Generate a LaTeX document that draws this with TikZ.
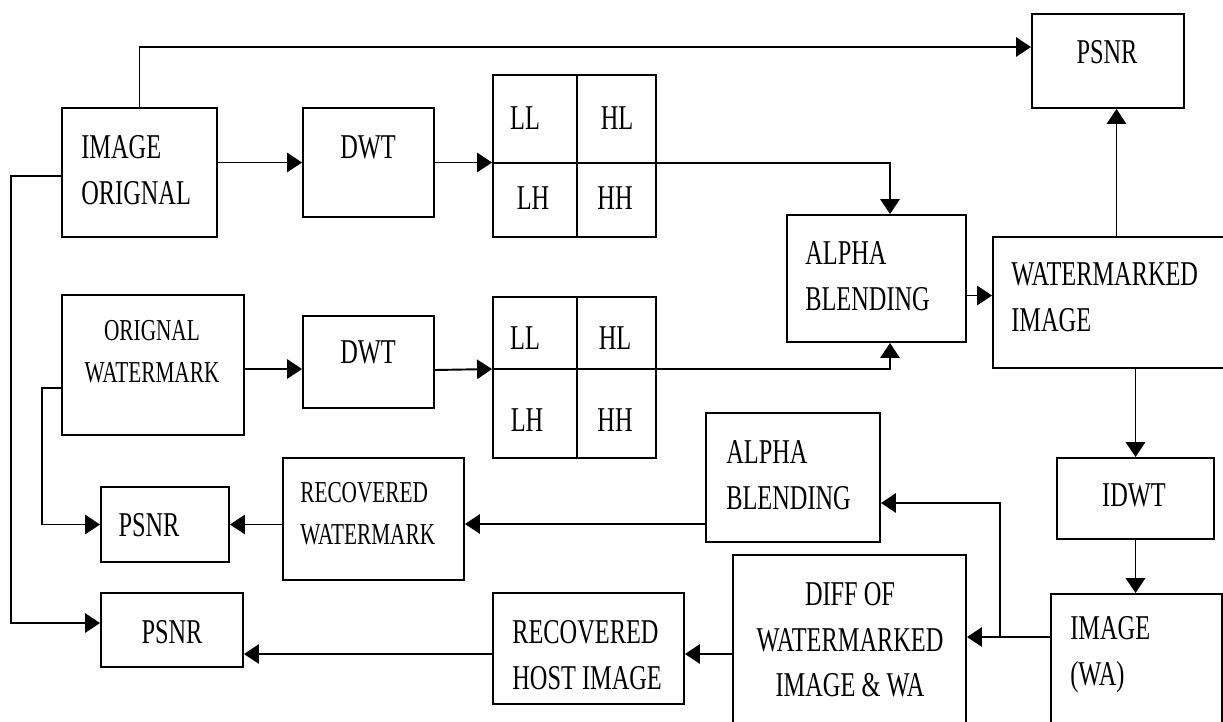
\documentclass[tikz,border=0pt]{standalone}
\usepackage{fontspec}
\setmainfont{Liberation Serif}[FakeStretch=0.7]
\usepackage{tikz}
\usetikzlibrary{arrows.meta, calc, fit}

\tikzset{
  blk/.style={draw, line width=1.1pt, inner sep=0pt},
  lbl/.style={font=\fontsize{19.8}{26}\selectfont, inner sep=0pt, align=left},
  sml/.style={lbl, font=\fontsize{17.3}{24}\selectfont},
  arr/.style={-{Triangle[length=8.5pt, width=11pt]}, line width=1.1pt},
  ln/.style={line width=1.1pt},
}

\begin{document}
\begin{tikzpicture}[x=0.02cm, y=-0.02cm]
    \useasboundingbox (0,0) rectangle (1223,721);
    \clip (0,0) rectangle (1223,721);

    % Host image branch
    \node[blk, fit={(62,108) (217,237)}] (imgorig) {};
    \node[lbl, anchor=west] (imgorigt) at (81,170) {IMAGE\\ORIGNAL};
    \node[blk, fit={(303,108) (434,217)}] (dwta) {};
    \node[lbl] (dwtat) at (368,147) {DWT};

    % Sub-bands of host
    \node[blk, fit={(493,75) (656,237)}] (grida) {};
    \draw[ln] (grida.west |- 0,163) -- (grida.east |- 0,163);
    \draw[ln] (grida.north -| 577,0) -- (grida.south -| 577,0);
    \node[lbl] (llA) at (525,118) {LL};
    \node[lbl] (hlA) at (617,118) {HL};
    \node[lbl] (lhA) at (533,198) {LH};
    \node[lbl] (hhA) at (615,198) {HH};

    % Watermark branch
    \node[blk, fit={(62,295) (244,435)}] (orwm) {};
    \node[sml, align=center] (orwmt) at (152,351.5) {ORIGNAL\\WATERMARK};
    \node[blk, fit={(303,316) (434,408)}] (dwtb) {};
    \node[lbl] (dwtbt) at (368,352) {DWT};

    % Sub-bands of watermark
    \node[blk, fit={(493,297) (656,458)}] (gridb) {};
    \draw[ln] (gridb.west |- 0,369) -- (gridb.east |- 0,369);
    \draw[ln] (gridb.north -| 577,0) -- (gridb.south -| 577,0);
    \node[lbl] (llB) at (525,338) {LL};
    \node[lbl] (hlB) at (615,338) {HL};
    \node[lbl] (lhB) at (527,420) {LH};
    \node[lbl] (hhB) at (615,420) {HH};

    % Embedding
    \node[blk, fit={(787,215) (966,342)}] (blenda) {};
    \node[lbl, anchor=west] (blendat) at (805,276.5) {ALPHA\\BLENDING};
    \node[blk, fit={(993,237) (1240,368)}] (wmimg) {};
    \node[lbl, anchor=west] (wmimgt) at (1011,297.5) {WATERMARKED\\IMAGE};
    \node[blk, fit={(1032,14) (1184,108)}] (psnra) {};
    \node[lbl] (psnrat) at (1107,52) {PSNR};
    \node[blk, fit={(1057,458) (1214,539)}] (idwt) {};
    \node[lbl] (idwtt) at (1134,495) {IDWT};
    \node[blk, fit={(1051,594) (1222,740)}] (imgwa) {};
    \node[lbl, anchor=west] (imgwat) at (1070,655) {IMAGE\\(WA)};

    % Extraction
    \node[blk, fit={(706,413) (880,542)}] (blendb) {};
    \node[lbl, anchor=west] (blendbt) at (726,475) {ALPHA\\BLENDING};
    \node[blk, fit={(733,555) (966,740)}] (diff) {};
    \node[lbl, align=center] (difft) at (850,640) {DIFF OF\\WATERMARKED\\IMAGE \& WA};
    \node[blk, fit={(493,593) (684,704)}] (rechost) {};
    \node[lbl, anchor=west] (rechostt) at (512,655) {RECOVERED\\HOST IMAGE};
    \node[blk, fit={(283,458) (464,580)}] (recwm) {};
    \node[sml, anchor=west] (recwmt) at (300,514) {RECOVERED\\WATERMARK};
    \node[blk, fit={(101,487) (229,562)}] (psnrb) {};
    \node[lbl] (psnrbt) at (149,525) {PSNR};
    \node[blk, fit={(101,593) (243,667)}] (psnrc) {};
    \node[lbl] (psnrct) at (172,632) {PSNR};

    % Forward path
    \draw[arr] (imgorig.north) |- ($(psnra.west)+(0,-14)$);
    \draw[arr] (imgorig.east |- dwta.west) -- (dwta.west);
    \draw[arr] (dwta.east) -- (grida.west |- dwta.east);
    \draw[arr] (grida.east |- 0,163) -| ($(blenda.north)+(13.5,0)$);
    \draw[arr] (orwm.east |- 0,369) -- (dwtb.west |- 0,369);
    \draw[arr] (dwtb.east |- 0,370) -- (gridb.west |- 0,369);
    \draw[arr] (gridb.east |- 0,369) -| ($(blenda.south)+(13.5,0)$);
    \draw[arr] ($(blenda.east)+(0,17)$) coordinate (ab) -- (ab -| wmimg.west);
    \draw[arr] (wmimg.north) -- (wmimg.north |- psnra.south);
    \draw[arr] (wmimg.south -| idwt.north) -- (idwt.north);
    \draw[arr] (idwt.south) -- (idwt.south |- imgwa.north);

    % Backward path
    \coordinate (jn) at (1000,637);
    \draw[arr] (imgwa.west |- jn) -- (diff.east |- jn);
    \draw[arr] (jn) |- ($(blendb.east)+(0,25.5)$);
    \draw[arr] ($(blendb.west)+(0,46.5)$) coordinate (bw) -- (bw -| recwm.east);
    \draw[arr] (recwm.west |- psnrb.east) -- (psnrb.east);
    \draw[arr] (diff.west |- 0,654) -- (rechost.east |- 0,654);
    \draw[arr] (rechost.west |- 0,654) -- (psnrc.east |- 0,654);

    % Comparisons
    \draw[arr] ($(orwm.west)+(0,23)$) -| ($(psnrb.west)+(-58,0)$) -- (psnrb.west);
    \draw[arr] ($(imgorig.west)+(0,3.5)$) -| ($(psnrc.west)+(-89,-7)$) -- ($(psnrc.west)+(0,-7)$);
\end{tikzpicture}
\end{document}
